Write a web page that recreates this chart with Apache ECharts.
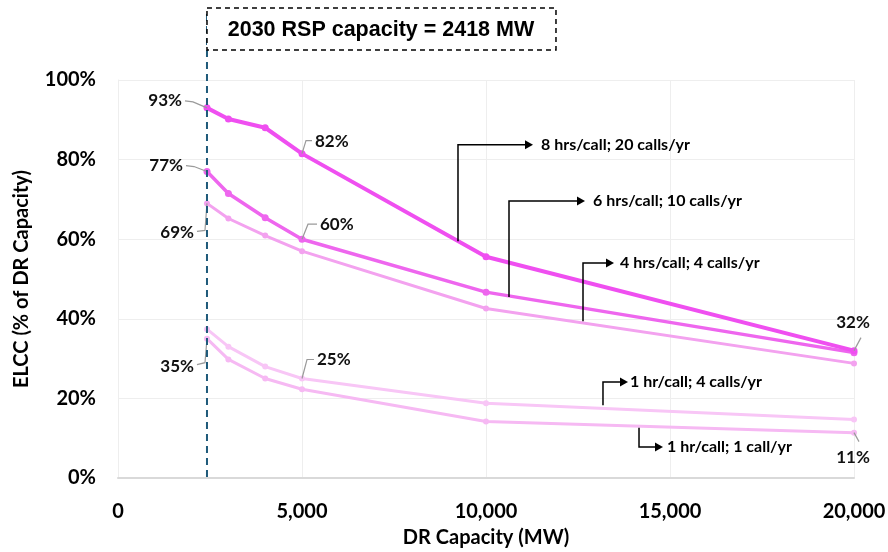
<!DOCTYPE html>
<html><head><meta charset="utf-8">
<script src="https://cdn.jsdelivr.net/npm/echarts@6/dist/echarts.min.js"></script>
<style>html,body{margin:0;padding:0;background:#fff}#c{width:888px;height:552px}</style>
</head><body><div id="c"></div>
<script>
const drCapacity = [2418, 3000, 4000, 5000, 10000, 20000];
const hr8calls20 = [93, 90.2, 88, 81.5, 55.6, 32];
const hr6calls10 = [77, 71.5, 65.4, 60, 46.7, 31.5];
const hr4calls4 = [69, 65.2, 60.9, 57, 42.6, 28.8];
const hr1calls4 = [37.4, 33, 28, 25, 18.8, 14.7];
const hr1calls1 = [35, 29.8, 25, 22.3, 14.2, 11.4];
const seriesNames = ['8 hrs/call; 20 calls/yr','6 hrs/call; 10 calls/yr','4 hrs/call; 4 calls/yr','1 hr/call; 4 calls/yr','1 hr/call; 1 call/yr'];
const rspCapacity = 2418;
const xTicks = [0, 5000, 10000, 15000, 20000];

const FONT = 'Lato';
const chart = echarts.init(document.getElementById('c'));
function pairs(vals){ return drCapacity.map((x,i)=>[x, vals[i]]); }
function mk(name, vals, color, w, sym, z){
  return {name, type:'line', data:pairs(vals), z, symbol:'circle', symbolSize:sym,
    lineStyle:{color, width:w}, itemStyle:{color}, emphasis:{disabled:true}, animation:false};
}
chart.setOption({
  animation:false,
  grid:{left:118, right:34, top:80, bottom:74, containLabel:false, outerBoundsMode:'none'},
  xAxis:{type:'value', min:0, max:20000, interval:5000,
    axisLine:{show:true, lineStyle:{color:'#d9d9d9', width:2}}, axisTick:{show:false},
    splitLine:{show:true, lineStyle:{color:'#eeeeee'}},
    axisLabel:{color:'#000', fontFamily:FONT, fontWeight:'bold', fontSize:20, margin:24,
      formatter:v=>v.toLocaleString('en-US')},
    name:'DR Capacity (MW)', nameLocation:'middle', nameGap:50,
    nameTextStyle:{color:'#000', fontFamily:FONT, fontWeight:'bold', fontSize:20}},
  yAxis:{type:'value', min:0, max:100, interval:20,
    axisLine:{show:true, lineStyle:{color:'#eeeeee'}}, axisTick:{show:false},
    splitLine:{show:true, lineStyle:{color:'#eeeeee'}},
    axisLabel:{color:'#000', fontFamily:FONT, fontWeight:'bold', fontSize:20, margin:22, formatter:'{value}%'},
    name:'ELCC (% of DR Capacity)', nameLocation:'middle', nameGap:86, nameRotate:90,
    nameTextStyle:{color:'#000', fontFamily:FONT, fontWeight:'bold', fontSize:20}},
  series:[
    mk(seriesNames[4], hr1calls1, '#f6b9f3', 3, 6, 2),
    mk(seriesNames[3], hr1calls4, '#f8c6f6', 3, 6, 3),
    mk(seriesNames[2], hr4calls4, '#f3a2ef', 3, 6, 4),
    mk(seriesNames[1], hr6calls10, '#ee66ee', 3.5, 7, 5),
    mk(seriesNames[0], hr8calls20, '#ef4ff0', 4, 7, 6)
  ]
});

const P = (x,y)=>chart.convertToPixel({gridIndex:0},[x,y]);
const g = [];
// RSP dashed vertical line + box
const rTop = P(rspCapacity,100), rBot = P(rspCapacity,0);
g.push({type:'line', shape:{x1:rTop[0], y1:14, x2:rBot[0], y2:rBot[1]}, z:10,
  style:{stroke:'#1f5a7a', lineWidth:2, lineDash:[7,5]}});
g.push({type:'rect', shape:{x:rTop[0], y:8, width:349, height:42}, z:11,
  style:{fill:'#fff', stroke:'#000', lineWidth:1.5, lineDash:[5,4]}});
g.push({type:'text', x:rTop[0]+174, y:30, z:12, style:{text:'2030 RSP capacity = 2418 MW',
  fill:'#000', font:'bold 21.5px "Liberation Sans", Arial', align:'center', verticalAlign:'middle'}});

// legend callouts (data coordinates)
const callouts = [
  {name:seriesNames[0], path:[[9239,59.5],[9239,83.7],[11060,83.7]], tx:11495},
  {name:seriesNames[1], path:[[10625,45.5],[10625,69.6],[12473,69.6]], tx:12908},
  {name:seriesNames[2], path:[[12636,39.4],[12636,54],[13261,54]], tx:13641},
  {name:seriesNames[3], path:[[13179,18.3],[13179,24.1],[13641,24.1]], tx:13913},
  {name:seriesNames[4], path:[[14158,12.6],[14158,7.8],[14592,7.8]], tx:14918}
];
callouts.forEach(c=>{
  const pts = c.path.map(p=>P(p[0],p[1]));
  g.push({type:'polyline', shape:{points:pts}, z:10, style:{stroke:'#000', lineWidth:1.5, fill:null}});
  const e = pts[pts.length-1];
  g.push({type:'polygon', shape:{points:[[e[0],e[1]-4.5],[e[0]+8,e[1]],[e[0],e[1]+4.5]]}, z:10, style:{fill:'#000'}});
  const t = P(c.tx, c.path[2][1]);
  g.push({type:'text', x:t[0], y:e[1], z:10, style:{text:c.name, fill:'#000',
    font:'bold 16px Lato', align:'left', verticalAlign:'middle'}});
});

// value labels with leader lines (offsets in px from the point)
const labels = [
  {s:hr8calls20, i:0, lead:[[-14,-6],[-22,-7]], t:[-25,-7], align:'right'},
  {s:hr8calls20, i:3, lead:[[4,-13],[10,-13]], t:[13,-12], align:'left'},
  {s:hr6calls10, i:0, lead:[[-13,-5],[-21,-6]], t:[-24,-6], align:'right'},
  {s:hr6calls10, i:3, lead:[[6,-15],[15,-15]], t:[18,-15], align:'left'},
  {s:hr4calls4, i:0, lead:[[-2,27],[-10,28]], t:[-13,29], align:'right'},
  {s:hr1calls1, i:0, lead:[[-2,24],[-10,26]], t:[-13,28], align:'right'},
  {s:hr1calls4, i:3, lead:[[5,-19],[12,-19]], t:[15,-19], align:'left'},
  {s:hr8calls20, i:5, lead:[[7,-13]], t:[-1,-28], align:'center'},
  {s:hr1calls1, i:5, lead:[[5,9]], t:[-1,25], align:'center'}
];
labels.forEach(l=>{
  const p = P(drCapacity[l.i], l.s[l.i]);
  const pts = [p].concat(l.lead.map(o=>[p[0]+o[0], p[1]+o[1]]));
  g.push({type:'polyline', shape:{points:pts}, z:9, style:{stroke:'#9a9a9a', lineWidth:1.2, fill:null}});
  g.push({type:'text', x:p[0]+l.t[0], y:p[1]+l.t[1], z:10, style:{text:Math.round(l.s[l.i])+'%', fill:'#111',
    font:'bold 17px Lato', align:l.align, verticalAlign:'middle'}});
});
chart.setOption({graphic:g});
</script></body></html>
